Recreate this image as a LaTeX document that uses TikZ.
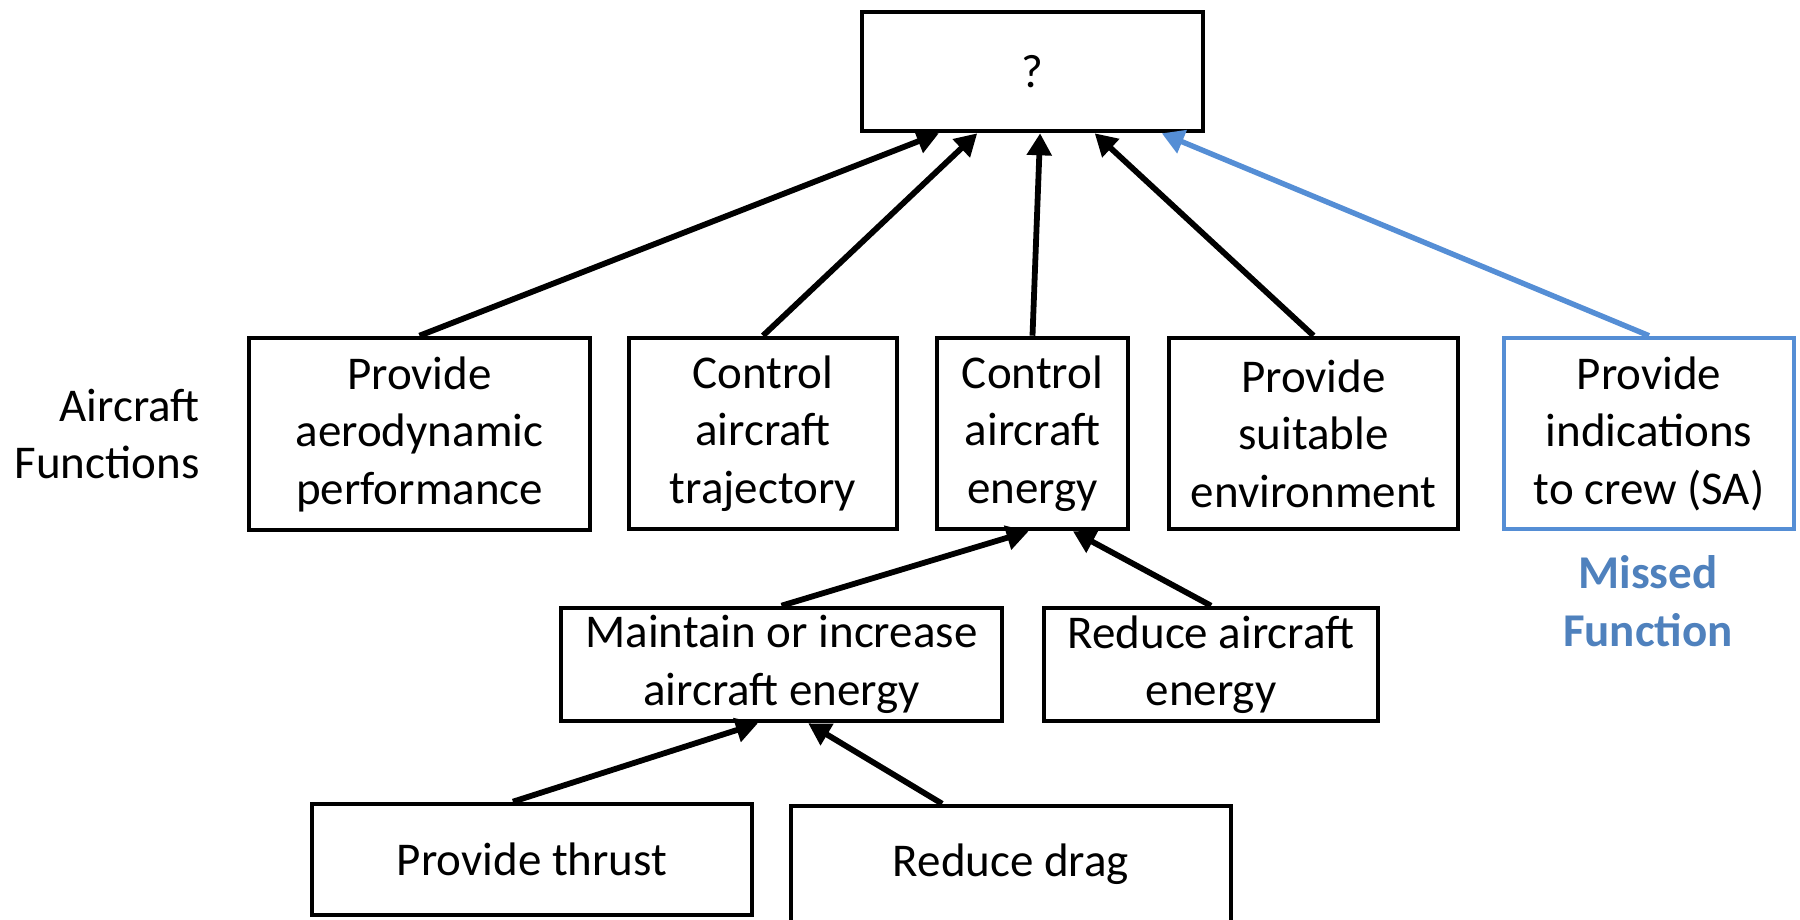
\documentclass[tikz,border=0pt]{standalone}
\usepackage{fontspec}
\setmainfont{Carlito}
\usetikzlibrary{arrows.meta,calc}
\definecolor{missblue}{RGB}{85,142,213}
\definecolor{misstext}{RGB}{79,129,189}
\begin{document}
\begin{tikzpicture}[x=0.5pt,y=-0.5pt,
  txt/.style={font=\fontsize{23.5}{28.75}\selectfont, align=center, inner sep=0pt},
  box/.style={txt, draw=black, line width=2.3pt},
  missbox/.style={box, draw=missblue},
  link/.style={line width=2.9pt, -{Triangle[length=11pt,width=12pt]}},
  misslink/.style={link, color=missblue, line width=2.7pt}]
\useasboundingbox (0,0) rectangle (1800,920);

% goal
\node[box, minimum width=170.5pt, minimum height=59.5pt] (top) at (1032.5,71.5) {?};

% aircraft functions
\node[box, minimum width=170.5pt, minimum height=96pt] (aero) at (419.5,434) {Provide\\aerodynamic\\performance};
\node[box, minimum width=134pt, minimum height=95.5pt] (traj) at (763,433.5) {Control\\aircraft\\trajectory};
\node[box, minimum width=95.5pt, minimum height=95.5pt] (energy) at (1032.5,433.5) {Control\\aircraft\\energy};
\node[box, minimum width=144.5pt, minimum height=95.5pt] (env) at (1313.5,433.5) {Provide\\suitable\\environment};
\node[missbox, minimum width=145pt, minimum height=95.5pt] (crew) at (1649,433.5) {Provide\\indications\\to crew (SA)};

\node[txt, anchor=east, align=right] (lbl) at (200,434) {Aircraft\\Functions};
\node[txt, font=\fontsize{23.5}{28.75}\selectfont\bfseries, text=misstext] (missed) at (1648,601) {Missed\\Function};

% energy sub-functions
\node[box, minimum width=220.5pt, minimum height=56.5pt] (incr) at (781.5,664.5) {Maintain or increase\\aircraft energy};
\node[box, minimum width=167pt, minimum height=56.5pt] (decr) at (1211,664.5) {Reduce aircraft\\energy};

% lowest level
\node[box, minimum width=220pt, minimum height=55.5pt] (thrust) at (532,859.5) {Provide thrust};
\node[box, minimum width=220pt, minimum height=58pt] (drag) at (1011,864) {Reduce drag};

% connectors to the goal
\draw[link] (aero.north) -- ($(top.south west)!0.229!(top.south east)$);
\draw[link] (traj.north) -- ($(top.south west)!0.340!(top.south east)$);
\draw[link] (energy.north) -- ($(top.south west)!0.522!(top.south east)$);
\draw[link] (env.north) -- ($(top.south west)!0.680!(top.south east)$);
\draw[misslink] (crew.north) -- ($(top.south west)!0.874!(top.south east)$);

% connectors to energy control
\draw[link] (incr.north) -- ($(energy.south west)!0.48!(energy.south east)$);
\draw[link] (decr.north) -- ($(energy.south west)!0.707!(energy.south east)$);

% connectors to energy increase
\draw[link] ($(thrust.north west)!0.457!(thrust.north east)$) -- ($(incr.south west)!0.447!(incr.south east)$);
\draw[link] ($(drag.north west)!0.345!(drag.north east)$) -- ($(incr.south west)!0.56!(incr.south east)$);
\end{tikzpicture}
\end{document}
